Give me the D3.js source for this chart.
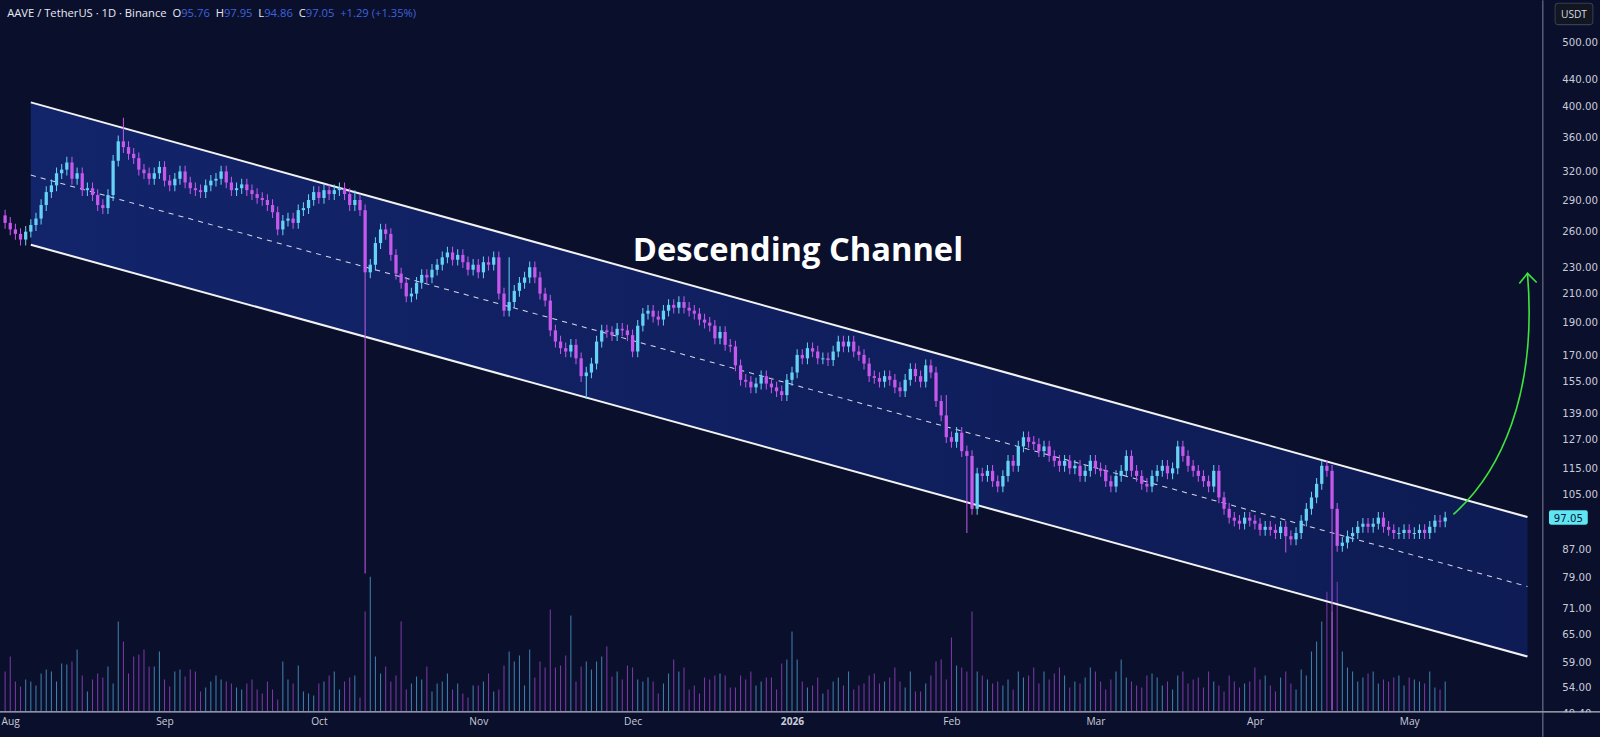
<!DOCTYPE html>
<html><head><meta charset="utf-8">
<script src="https://cdn.jsdelivr.net/npm/d3@7"></script>
<style>html,body{margin:0;padding:0;background:#0a0f2c;overflow:hidden}svg{display:block}</style>
</head><body>
<svg id="c" width="1600" height="737" viewBox="0 0 1568 722"></svg>
<script>
const startDate = "2025-08-01";
const closes = [268,262,258,253,260,266,
272,285,298,305,318,322,330,312,
318,300,302,295,285,282,
295,332,355,348,340,
335,322,318,312,318,325,310,305,312,320,308,302,
300,298,305,310,312,320,308,300,302,306,300,296,292,290,285,278,
262,270,272,268,280,282,290,298,292,300,296,300,302,296,
285,290,280,226,
232,250,262,258,240,225,218,208,
210,218,224,222,228,232,238,242,236,
240,234,228,232,226,234,232,238,210,198,
204,212,218,222,230,222,210,205,185,
178,174,172,176,168,158,160,165,178,
185,184,182,186,185,182,172,188,
196,198,194,192,198,202,200,204,200,198,
196,192,190,188,180,184,176,175,
164,156,155,152,154,158,154,152,150,148,
156,160,170,168,174,172,168,168,167,
172,178,175,178,172,170,165,158,
157,155,158,156,152,150,156,162,
158,155,164,160,145,138,128,126,
130,122,120,100,113,112,
114,110,108,112,118,116,124,
128,126,125,122,124,120,118,116,118,
115,116,112,114,118,115,114,110,108,112,
114,120,114,112,109,108,112,114,116,113,
115,124,120,116,114,112,110,108,114,
104,100,97,96,95,97,96,95,93,
94,93,92,94,91,90,92,96,100,
104,109,116,114,100,
88,89,91,92,94,95,94,
95,97,94,93,92,92,93,92,
92,93,92,94,96,95.76,97.05];
const firstOpen = 275;
const wickHighs = {23:385, 68:300, 98:238, 183:148, 256:118};
const wickLows = {70:80, 113:146, 187:92, 249:86, 258:50};
const volumes = [40,55,30,25,32,30,26,38,42,40,30,48,47,50,62,36,20,32,38,34,45,28,90,70,38,55,57,62,45,45,60,32,25,40,42,35,42,40,20,24,30,36,32,30,28,24,22,28,32,22,18,30,22,12,50,32,28,46,20,18,16,28,30,36,40,22,30,34,36,14,100,135,55,38,45,30,36,90,22,28,35,32,45,20,28,30,38,22,28,18,14,26,26,30,38,20,22,46,60,50,56,26,62,34,50,44,102,44,46,56,96,30,45,50,42,50,55,65,35,40,32,46,44,32,30,34,30,18,28,38,52,40,44,22,26,18,34,32,36,38,36,24,24,36,32,40,26,30,34,34,22,48,52,80,52,30,24,26,34,18,22,30,34,26,40,22,26,28,36,38,28,30,34,44,30,24,40,20,20,28,36,50,52,32,74,46,44,40,100,40,36,32,28,30,26,32,22,40,34,36,44,28,40,32,38,44,36,24,30,28,34,44,40,30,22,32,40,52,34,30,26,24,36,38,34,26,30,22,36,40,28,32,34,24,40,30,26,20,36,30,24,28,30,44,32,36,26,20,34,40,28,22,42,36,60,70,90,120,100,130,60,44,40,30,34,38,40,28,32,30,34,36,26,34,32,30,28,40,24,22,30,26,24,28,30,26,20];
const yTicks = [500,440,400,360,320,290,260,230,210,190,170,155,139,127,115,105,87,79,71,65,59,54,49.40];
const xTicks = [["2025-08-01","Aug"],["2025-09-01","Sep"],["2025-10-01","Oct"],["2025-11-01","Nov"],["2025-12-01","Dec"],["2026-01-01","2026"],["2026-02-01","Feb"],["2026-03-01","Mar"],["2026-04-01","Apr"],["2026-05-01","May"]];
const channelUpper = [["2025-08-06",406],["2026-05-24",97.2]];
const channelLower = [["2025-08-06",248.5],["2026-05-24",60.1]];
const channelMid = [["2025-08-06",316],["2026-05-24",76.5]];

const W=1568,H=722, plotR=1512, axisY=697;
const svg=d3.select("#c");
const P=d3.timeParse("%Y-%m-%d");
const x=d3.scaleTime().domain([P("2025-08-01"),P("2026-05-01")]).range([5,1381]);
const y=d3.scaleLog().domain([49.4,500]).range([699,41]);
const vMax=d3.max(volumes);
const vy=d3.scaleLinear().domain([0,vMax]).range([axisY,565]);

svg.append("rect").attr("width",W).attr("height",H).attr("fill","#0a0f2c");
const defs=svg.append("defs");
const cp=defs.append("clipPath").attr("id","pc");
cp.append("rect").attr("x",0).attr("y",0).attr("width",plotR).attr("height",axisY);
const g=svg.append("g").attr("clip-path","url(#pc)");

const d0=P(startDate);
const data=closes.map((c,i)=>{
  const d=d3.timeDay.offset(d0,i);
  const o=i===0?firstOpen:closes[i-1];
  const hi=wickHighs[i]!==undefined?wickHighs[i]:Math.max(o,c)*1.02;
  const lo=wickLows[i]!==undefined?wickLows[i]:Math.min(o,c)*0.98;
  return {d,o,c,hi,lo,v:volumes[i]||20};
});

const pt=a=>[x(P(a[0])),y(a[1])];
const u0=pt(channelUpper[0]),u1=pt(channelUpper[1]),l0=pt(channelLower[0]),l1=pt(channelLower[1]),m0=pt(channelMid[0]),m1=pt(channelMid[1]);
const gr=defs.append("linearGradient").attr("id","cf").attr("x1",0).attr("x2",1).attr("y1",0).attr("y2",0);
gr.append("stop").attr("offset",0).attr("stop-color","#14297a").attr("stop-opacity",0.8);
gr.append("stop").attr("offset",1).attr("stop-color","#10226a").attr("stop-opacity",0.65);
g.append("path").attr("d",d3.line()([u0,u1,l1,l0])+"Z").attr("fill","url(#cf)");

g.selectAll(".v").data(data).join("line")
 .attr("x1",d=>x(d.d)).attr("x2",d=>x(d.d)).attr("y1",axisY).attr("y2",d=>vy(d.v))
 .attr("stroke",d=>d.c>=d.o?"#4f9fd0":"#9a45c8").attr("stroke-width",1).attr("opacity",0.8);

g.append("line").attr("x1",u0[0]).attr("y1",u0[1]).attr("x2",u1[0]).attr("y2",u1[1]).attr("stroke","#f2f2f2").attr("stroke-width",2);
g.append("line").attr("x1",l0[0]).attr("y1",l0[1]).attr("x2",l1[0]).attr("y2",l1[1]).attr("stroke","#f2f2f2").attr("stroke-width",2);
g.append("line").attr("x1",m0[0]).attr("y1",m0[1]).attr("x2",m1[0]).attr("y2",m1[1]).attr("stroke","#d8d8e8").attr("stroke-width",1).attr("stroke-dasharray","5,5");

const bw=3.2;
const cg=g.selectAll(".cd").data(data).join("g");
cg.append("line").attr("x1",d=>x(d.d)).attr("x2",d=>x(d.d)).attr("y1",d=>y(d.hi)).attr("y2",d=>y(d.lo))
 .attr("stroke",d=>d.c>=d.o?"#66d2f5":"#c658ec").attr("stroke-width",1);
cg.append("rect").attr("x",d=>x(d.d)-bw/2).attr("width",bw)
 .attr("y",d=>y(Math.max(d.o,d.c))).attr("height",d=>Math.max(1,Math.abs(y(d.o)-y(d.c))))
 .attr("fill",d=>d.c>=d.o?"#66d2f5":"#c658ec");

const last=data[data.length-1];
const ax0=x(last.d)+8, ay0=y(last.c)-3;
const ax1=x(P("2026-05-24")), ay1=y(230)+6;
svg.append("path").attr("d",`M${ax0},${ay0} C${ax0+45},${ay0-40} ${ax1+10},${ay1+120} ${ax1},${ay1}`)
 .attr("fill","none").attr("stroke","#3ee33e").attr("stroke-width",1.6);
svg.append("path").attr("d",`M${ax1-8},${ay1+10} L${ax1},${ay1} L${ax1+9},${ay1+9}`)
 .attr("fill","none").attr("stroke","#3ee33e").attr("stroke-width",1.6);

svg.append("text").attr("x",782).attr("y",256).attr("text-anchor","middle").attr("fill","#ffffff")
 .attr("font-family","'Open Sans',sans-serif").attr("font-weight",700).attr("font-size",32).text("Descending Channel");

svg.append("rect").attr("x",plotR).attr("y",0).attr("width",W-plotR).attr("height",H).attr("fill","#0a0f2c");
svg.append("rect").attr("x",0).attr("y",axisY).attr("width",W).attr("height",H-axisY).attr("fill","#0a0f2c");
svg.append("line").attr("x1",plotR).attr("x2",plotR).attr("y1",0).attr("y2",H).attr("stroke","#7c8196").attr("stroke-width",1);
const ya=svg.append("g").attr("transform",`translate(${plotR+10},0)`)
 .call(d3.axisRight(y).tickValues(yTicks).tickSize(0).tickFormat(d3.format(".2f")));
ya.select(".domain").remove();
ya.selectAll("text").attr("fill","#c9ccd8").attr("font-size",10).attr("font-family","'DejaVu Sans',sans-serif").attr("dx",6);
svg.append("rect").attr("x",0).attr("y",axisY+1).attr("width",W).attr("height",H-axisY).attr("fill","#0a0f2c");
svg.append("line").attr("x1",0).attr("x2",W).attr("y1",axisY+0.5).attr("y2",axisY+0.5).attr("stroke","#b9bccb").attr("stroke-width",1);
svg.append("line").attr("x1",plotR).attr("x2",plotR).attr("y1",axisY).attr("y2",H).attr("stroke","#7c8196").attr("stroke-width",1);
const xa=svg.append("g").attr("transform",`translate(0,${axisY+3})`)
 .call(d3.axisBottom(x).tickValues(xTicks.map(t=>P(t[0]))).tickSize(0).tickFormat((d,i)=>xTicks[i][1]));
xa.select(".domain").remove();
xa.selectAll("text").attr("fill","#c9ccd8").attr("font-size",10).attr("font-family","'Open Sans',sans-serif")
 .attr("font-weight",(d,i)=>xTicks[i][1]==="2026"?700:400)
 .attr("text-anchor",(d,i)=>i===0?"start":"middle").attr("dx",(d,i)=>i===0?-4:0);

svg.append("rect").attr("x",1524).attr("y",3).attr("width",37).attr("height",21).attr("rx",3).attr("fill","#121620").attr("stroke","#3a3f4e");
svg.append("text").attr("x",1542.5).attr("y",18).attr("text-anchor","middle").attr("fill","#d8dae2").attr("font-size",10).attr("font-family","'Open Sans',sans-serif").text("USDT");
svg.append("rect").attr("x",1518).attr("y",y(97.05)-7).attr("width",38).attr("height",14).attr("rx",2).attr("fill","#5fe6f2");
svg.append("text").attr("x",1537).attr("y",y(97.05)+4).attr("text-anchor","middle").attr("fill","#0a1a3a").attr("font-size",10).attr("font-family","'DejaVu Sans',sans-serif").text("97.05");

const hdr=svg.append("text").attr("x",7).attr("y",17).attr("font-size",11).attr("font-family","'Open Sans',sans-serif").attr("style","white-space:pre");
const parts=[["AAVE / TetherUS · 1D · Binance  ","#e8eaf2"],["O","#e8eaf2"],["95.76  ","#3e63dd"],["H","#e8eaf2"],["97.95  ","#3e63dd"],["L","#e8eaf2"],["94.86  ","#3e63dd"],["C","#e8eaf2"],["97.05  +1.29 (+1.35%)","#3e63dd"]];
parts.forEach(p=>hdr.append("tspan").attr("fill",p[1]).text(p[0]));
</script>
</body></html>
